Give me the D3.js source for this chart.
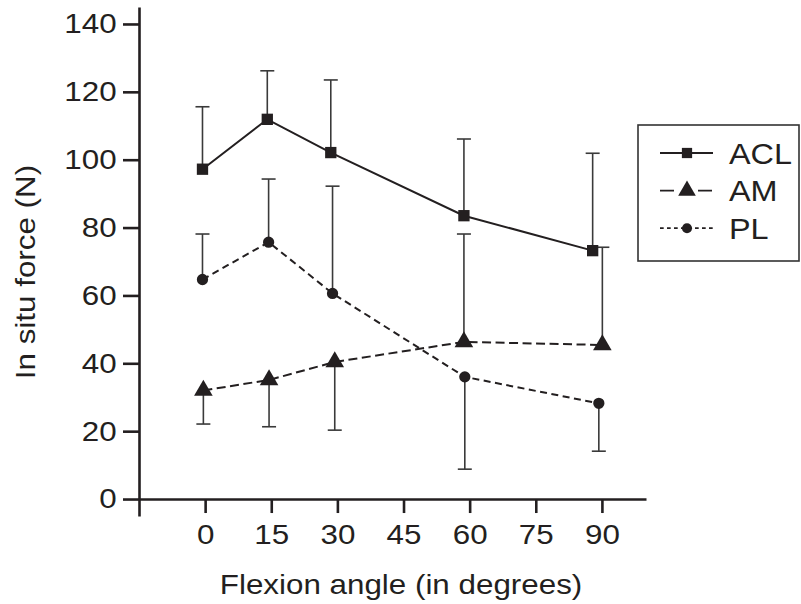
<!DOCTYPE html>
<html lang="en">
<head>
    <meta charset="UTF-8">
    <script src="https://cdn.jsdelivr.net/npm/d3@7"></script>
    <title>In situ force vs flexion angle</title>
    <style>
        body { margin: 0; background: #fff; }
        text { font-family: 'Liberation Sans', Arial, Helvetica, sans-serif; fill: #231f20; }
    </style>
</head>
<body>
<div class="fig"></div>
<script>
    // values (angle in degrees, force in N)
    // sign of the SD says which side the bar is drawn on: + up, - down
    const aclAngle = [-0.6, 14.1, 28.5, 58.7, 87.9];
    const aclForce = [97.2, 111.9, 102.1, 83.5, 73.2];
    const aclSD    = [18.4, 14.3, 21.4, 22.6, 28.7];

    const amAngle = [-0.4, 14.5, 29.4, 58.7, 90.1];
    const amForce = [32.0, 35.1, 40.4, 46.3, 45.4];
    const amSD    = [-9.9, -13.8, -20.1, 31.8, 28.8];

    const plAngle = [-0.6, 14.4, 28.9, 58.9, 89.3];
    const plForce = [64.7, 75.7, 60.6, 36.0, 28.2];
    const plSD    = [13.4, 18.6, 31.6, -27.2, -14.1];

    const xTicks = [0, 15, 30, 45, 60, 75, 90];
    const yTicks = [0, 20, 40, 60, 80, 100, 120, 140];
    const seriesNames = ["ACL", "AM", "PL"];

    const ink = "#231f20";
    const stretch = "scale(1.12,1)";   // reference font is wider than Arial

    const width = 801, height = 604;
    const svg = d3.select(".fig").append("svg")
        .attr("width", width)
        .attr("height", height);

    const x = d3.scaleLinear().domain([-15, 100]).range([139, 646]);
    const y = d3.scaleLinear().domain([-5, 145]).range([516, 7]);

    const series = [
        { name: seriesNames[0], angle: aclAngle, force: aclForce, sd: aclSD,
          symbol: d3.symbolSquare, size: 128, dash: null, legendSize: 105, legendDash: null },
        { name: seriesNames[1], angle: amAngle, force: amForce, sd: amSD,
          symbol: d3.symbolTriangle, size: 150, dash: "9,4.5", legendSize: 135, legendDash: "14,24" },
        { name: seriesNames[2], angle: plAngle, force: plForce, sd: plSD,
          symbol: d3.symbolCircle, size: 100, dash: "7,4.5", legendSize: 80, legendDash: "3.7,3.3" }
    ];

    /*----------------- axes -----------------*/
    const xAxis = svg.append("g")
        .attr("transform", `translate(0,${y(0)})`)
        .call(d3.axisBottom(x).tickValues(xTicks).tickSize(14).tickSizeOuter(0).tickPadding(11));

    const yAxis = svg.append("g")
        .attr("transform", `translate(${x(-15)},0)`)
        .call(d3.axisLeft(y).tickValues(yTicks).tickSize(16).tickSizeOuter(0));

    [xAxis, yAxis].forEach(g => {
        g.selectAll("path, line").attr("stroke", ink).attr("stroke-width", 2.6);
        g.selectAll("text")
            .attr("font-size", 28)
            .attr("fill", ink)
            .attr("transform", stretch);
    });
    yAxis.selectAll("text").attr("x", -20);

    svg.append("text")
        .attr("transform", `translate(401,594) ${stretch}`)
        .attr("text-anchor", "middle")
        .attr("font-size", 28)
        .text("Flexion angle (in degrees)");

    svg.append("text")
        .attr("transform", `translate(35,272) rotate(-90) ${stretch}`)
        .attr("text-anchor", "middle")
        .attr("font-size", 28)
        .text("In situ force (N)");

    /*----------------- error bars -----------------*/
    series.forEach(s => {
        const pts = s.angle.map((a, i) => ({ a: a, f: s.force[i], sd: s.sd[i] }));
        const bars = svg.append("g").attr("stroke", "#3a3a3a").attr("stroke-width", 1.6);
        bars.selectAll(".bar").data(pts).enter().append("line")
            .attr("x1", d => x(d.a)).attr("x2", d => x(d.a))
            .attr("y1", d => y(d.f)).attr("y2", d => y(d.f + d.sd));
        bars.selectAll(".cap").data(pts).enter().append("line")
            .attr("x1", d => x(d.a) - 7).attr("x2", d => x(d.a) + 7)
            .attr("y1", d => y(d.f + d.sd)).attr("y2", d => y(d.f + d.sd));
    });

    /*----------------- lines + markers -----------------*/
    const line = d3.line().x(d => x(d.a)).y(d => y(d.f));

    series.forEach(s => {
        const pts = s.angle.map((a, i) => ({ a: a, f: s.force[i] }));
        svg.append("path")
            .datum(pts)
            .attr("d", line)
            .attr("fill", "none")
            .attr("stroke", ink)
            .attr("stroke-width", 2)
            .attr("stroke-dasharray", s.dash);

        svg.selectAll(null).data(pts).enter().append("path")
            .attr("transform", d => `translate(${x(d.a)},${y(d.f)})`)
            .attr("d", d3.symbol(s.symbol, s.size))
            .attr("fill", ink);
    });

    /*----------------- legend -----------------*/
    const legend = svg.append("g");
    legend.append("rect")
        .attr("x", 638).attr("y", 125)
        .attr("width", 161).attr("height", 136)
        .attr("fill", "#fff")
        .attr("stroke", "#333")
        .attr("stroke-width", 1.6);

    series.forEach((s, i) => {
        const cy = 153 + i * 37.6;
        legend.append("line")
            .attr("x1", 660).attr("x2", 713)
            .attr("y1", cy).attr("y2", cy)
            .attr("stroke", ink)
            .attr("stroke-width", 1.8)
            .attr("stroke-dasharray", s.legendDash);
        legend.append("path")
            .attr("transform", `translate(687,${cy})`)
            .attr("d", d3.symbol(s.symbol, s.legendSize))
            .attr("fill", ink);
        legend.append("text")
            .attr("transform", `translate(729,${cy}) scale(1.08,1)`)
            .attr("dy", "0.36em")
            .attr("font-size", 30)
            .text(s.name);
    });
</script>
</body>
</html>
